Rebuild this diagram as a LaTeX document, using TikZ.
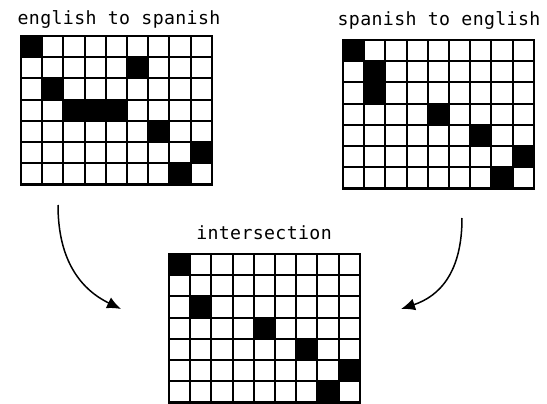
\documentclass[tikz,border=0pt]{standalone}
\usepackage{fontspec}
\newfontfamily\labfont[LetterSpace=2]{DejaVu Sans Mono}
\usetikzlibrary{arrows.meta}
\newcommand\cw{21.2}
\newcommand\drawgrid[4]{%
  \node[gridbox, anchor=north west] (#1) at (#2,#3) {};
  \foreach \r/\c in {#4} \fill (#2+\c*\cw, #3+\r*\cw) rectangle ++(\cw,\cw);
  \foreach \i in {1,...,8} \draw[gridline] (#2+\i*\cw, #3) -- ++(0,7*\cw);
  \foreach \j in {1,...,6} \draw[gridline] (#2, #3+\j*\cw) -- ++(9*\cw,0);
  \node[gridbox, anchor=north west] at (#2,#3) {};
}
\begin{document}
\begin{tikzpicture}[x=1pt,y=-1pt,
  gridbox/.style={draw, line width=2.4pt, minimum width=190.8pt, minimum height=148.4pt, inner sep=0pt, outer sep=0pt},
  gridline/.style={line width=2.1pt},
  lab/.style={font=\labfont\fontsize{18.2}{22}\selectfont, inner sep=0pt},
  flow/.style={line width=1.5pt, -{Latex[length=14pt,width=12pt]}}]
\useasboundingbox (0,0) rectangle (547,404);
\node[lab] (t1) at (119,19) {english to spanish};
\node[lab] (t2) at (439,20) {spanish to english};
\node[lab] (t3) at (264,233) {intersection};
\drawgrid{g1}{21}{36}{0/0,1/5,2/1,3/2,3/3,3/4,4/6,5/8,6/7}
\drawgrid{g2}{343}{40}{0/0,1/1,2/1,3/4,4/6,5/8,6/7}
\drawgrid{g3}{169}{254}{0/0,2/1,3/4,4/6,5/8,6/7}
\coordinate (a1) at (58,205);
\coordinate (b1) at (121,309);
\coordinate (a2) at (462,218);
\coordinate (b2) at (401,309);
\draw[flow] (a1) .. controls (58,262) and (82,290) .. (b1);
\draw[flow] (a2) .. controls (462,272) and (440,296) .. (b2);
\end{tikzpicture}
\end{document}
